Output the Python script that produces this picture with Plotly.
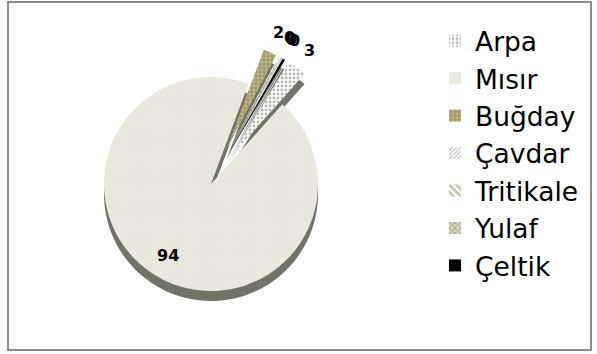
import math
import plotly.graph_objects as go

# Crop shares (percent)
crops = ["Arpa", "Mısır", "Buğday", "Çavdar", "Tritikale", "Yulaf", "Çeltik"]
shares = [3, 94, 2, 0.2, 0.1, 0.2, 0.4]

# Slice styling
base_colors = ["#ffffff", "#edebe1", "#a69d6b", "#ffffff", "#ffffff", "#ddd9be", "#000000"]
pattern_shapes = [".", "x", ".", "/", "\\", "x", ""]
pattern_fg = ["#6f6f68", "#d9d6c5", "#ddd7b6", "#77776e", "#8c8455", "#8c8455", "#000000"]
pattern_sizes = [4, 3, 4, 3, 5, 4, 8]
pattern_solidity = [0.4, 0.35, 0.3, 0.35, 0.5, 0.5, 0.3]
side_color = "#72726a"

# Canvas and pie geometry (pixels)
W, H = 597, 354
CX, CY, R = 211, 184, 107
DEPTH = 10
ROTATION = 31
PULL_SMALL = 0.35
pulls = [0 if c == "Mısır" else PULL_SMALL for c in crops]
max_pull = max(pulls)
half_box = R * (1 + max_pull)


def domain(cx, cy):
    return dict(
        x=[(cx - half_box) / W, (cx + half_box) / W],
        y=[(H - cy - half_box) / H, (H - cy + half_box) / H],
    )


fig = go.Figure()

# darker copy underneath gives the pie its thickness
fig.add_trace(go.Pie(
    labels=crops, values=shares, sort=False, direction="clockwise",
    rotation=ROTATION, pull=pulls, textinfo="none", hoverinfo="skip",
    marker=dict(colors=[side_color] * len(crops), line=dict(width=0)),
    domain=domain(CX, CY + DEPTH), showlegend=False,
))

fig.add_trace(go.Pie(
    labels=crops, values=shares, sort=False, direction="clockwise",
    rotation=ROTATION, pull=pulls, textinfo="none",
    marker=dict(
        colors=base_colors, line=dict(width=0),
        pattern=dict(shape=pattern_shapes, fgcolor=pattern_fg, size=pattern_sizes,
                     solidity=pattern_solidity, fillmode="overlay"),
    ),
    domain=domain(CX, CY),
))

# value labels placed along each slice's bisector
total = sum(shares)
start = ROTATION
for crop, val, pull in zip(crops, shares, pulls):
    span = 360 * val / total
    mid = math.radians(start + span / 2)
    start += span
    rho = 0.78 * R if pull == 0 else (pull + 1.2) * R
    px = CX + rho * math.sin(mid)
    py = CY - rho * math.cos(mid)
    fig.add_annotation(
        x=px / W, y=1 - py / H, xref="paper", yref="paper",
        xanchor="center", yanchor="middle",
        text=f"<b>{val:.0f}</b>", showarrow=False,
        font=dict(family="DejaVu Sans", size=16, color="#000000"),
    )

# chart frame
fig.add_shape(type="rect", xref="paper", yref="paper",
              x0=8 / W, x1=591 / W, y0=1 - 350 / H, y1=1 - 2 / H,
              line=dict(color="#8c8c8c", width=2), fillcolor="rgba(0,0,0,0)")

fig.update_layout(
    width=W, height=H,
    margin=dict(l=0, r=0, t=0, b=0),
    paper_bgcolor="#ffffff", plot_bgcolor="#ffffff",
    legend=dict(
        x=435 / W, y=1 - 17 / H, xanchor="left", yanchor="top",
        font=dict(family="DejaVu Sans", size=26.5, color="#000000"),
        bgcolor="rgba(0,0,0,0)",
    ),
)

fig.write_html("out.html")
